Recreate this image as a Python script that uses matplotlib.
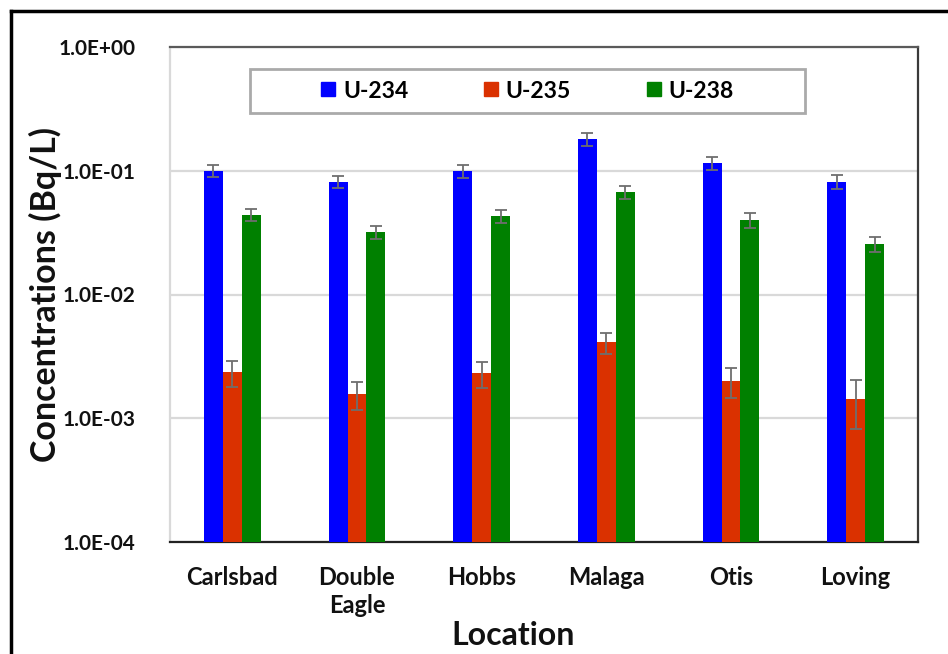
import matplotlib
matplotlib.use("Agg")
import matplotlib.pyplot as plt
from matplotlib.patches import Rectangle
from matplotlib.lines import Line2D
import numpy as np

# Uranium isotope concentrations in groundwater, by sampling location (Bq/L)
locations = ["Carlsbad", "Double\nEagle", "Hobbs", "Malaga", "Otis", "Loving"]
isotopes = ["U-234", "U-235", "U-238"]
colors = ["#0000FF", "#DA3100", "#008000"]

u234 = [0.100, 0.0816, 0.100, 0.181, 0.115, 0.0816]
u234_err = [0.011, 0.009, 0.012, 0.022, 0.014, 0.010]
u235 = [0.00235, 0.00157, 0.00231, 0.0041, 0.00200, 0.00142]
u235_err = [0.00057, 0.00040, 0.00055, 0.00080, 0.00055, 0.00060]
u238 = [0.0442, 0.0320, 0.0431, 0.0669, 0.0397, 0.0256]
u238_err = [0.0052, 0.0038, 0.0052, 0.0080, 0.0055, 0.0037]

yticks = [1e-4, 1e-3, 1e-2, 1e-1, 1e0]
ytick_labels = ["1.0E-04", "1.0E-03", "1.0E-02", "1.0E-01", "1.0E+00"]

plt.rcParams["font.family"] = ["Lato", "DejaVu Sans"]

W, H = 948, 654
fig = plt.figure(figsize=(W / 100, H / 100), dpi=100)
ax = fig.add_axes([170 / W, 1 - 542 / H, 748 / W, 495 / H])

series = [(u234, u234_err), (u235, u235_err), (u238, u238_err)]
x = np.arange(len(locations))
bw = 0.152
for k, ((vals, errs), col) in enumerate(zip(series, colors)):
    ax.bar(x + (k - 1) * bw, vals, width=bw, color=col, zorder=3,
           yerr=errs, error_kw=dict(ecolor="#6E6E6E", elinewidth=1.3,
                                    capsize=4, capthick=1.3, zorder=4))

ax.set_yscale("log")
ax.set_ylim(1e-4, 1e0)
ax.set_xlim(-0.5, len(locations) - 0.5)
ax.set_yticks(yticks)
ax.set_yticklabels(ytick_labels)
ax.yaxis.set_minor_locator(matplotlib.ticker.NullLocator())
ax.set_xticks(x)
ax.set_xticklabels(locations, linespacing=1.3)
ax.tick_params(axis="y", length=0, pad=25, labelsize=15)
ax.tick_params(axis="x", length=0, pad=17, labelsize=17)
for lab in ax.get_xticklabels() + ax.get_yticklabels():
    lab.set_fontweight("bold")
    lab.set_color("#111111")

ax.grid(axis="y", color="#D9D9D9", linewidth=1.6, zorder=0)
ax.spines["left"].set_color("#D9D9D9")
ax.spines["left"].set_linewidth(1.6)
ax.spines["bottom"].set_color("#222222")
ax.spines["bottom"].set_linewidth(1.6)
ax.spines["top"].set_color("#5A5A5A")
ax.spines["top"].set_linewidth(1.6)
ax.spines["right"].set_color("#3A3A3A")
ax.spines["right"].set_linewidth(1.6)

ax.set_ylabel("Concentrations (Bq/L)", fontsize=24.5, fontweight="bold",
              color="#111111")
ax.yaxis.set_label_coords((62 - 170) / 748, 0.5)
ax.set_xlabel("Location", fontsize=23, fontweight="bold", color="#111111")
ax.xaxis.set_label_coords((513 - 170) / 748, (542 - 621) / 495)

# legend box spanning the upper part of the plot
lx0, lx1, ly0, ly1 = 250, 805, 69, 113
box = Rectangle(((lx0 - 170) / 748, (542 - ly1) / 495),
                (lx1 - lx0) / 748, (ly1 - ly0) / 495,
                transform=ax.transAxes, facecolor="white",
                edgecolor="#AAAAAA", linewidth=2, zorder=5)
ax.add_patch(box)
handles = [Line2D([], [], marker="s", linestyle="none", markersize=10,
                  markerfacecolor=c, markeredgecolor=c) for c in colors]
leg = ax.legend(handles, isotopes, ncol=3, frameon=False,
                loc="center",
                bbox_to_anchor=(((lx0 + lx1) / 2 - 170) / 748,
                                (542 - (ly0 + ly1) / 2) / 495),
                prop=dict(size=16.5, weight="bold"),
                handlelength=0.6, handletextpad=0.35, columnspacing=3.3)
leg.set_zorder(6)

# outer frame
fig.add_artist(Line2D([11 / W, 1], [1 - 11 / H, 1 - 11 / H],
                      transform=fig.transFigure, color="black", linewidth=2.5))
fig.add_artist(Line2D([11 / W, 11 / W], [0, 1 - 11 / H],
                      transform=fig.transFigure, color="black", linewidth=2.5))

fig.savefig("out.png", dpi=100)
